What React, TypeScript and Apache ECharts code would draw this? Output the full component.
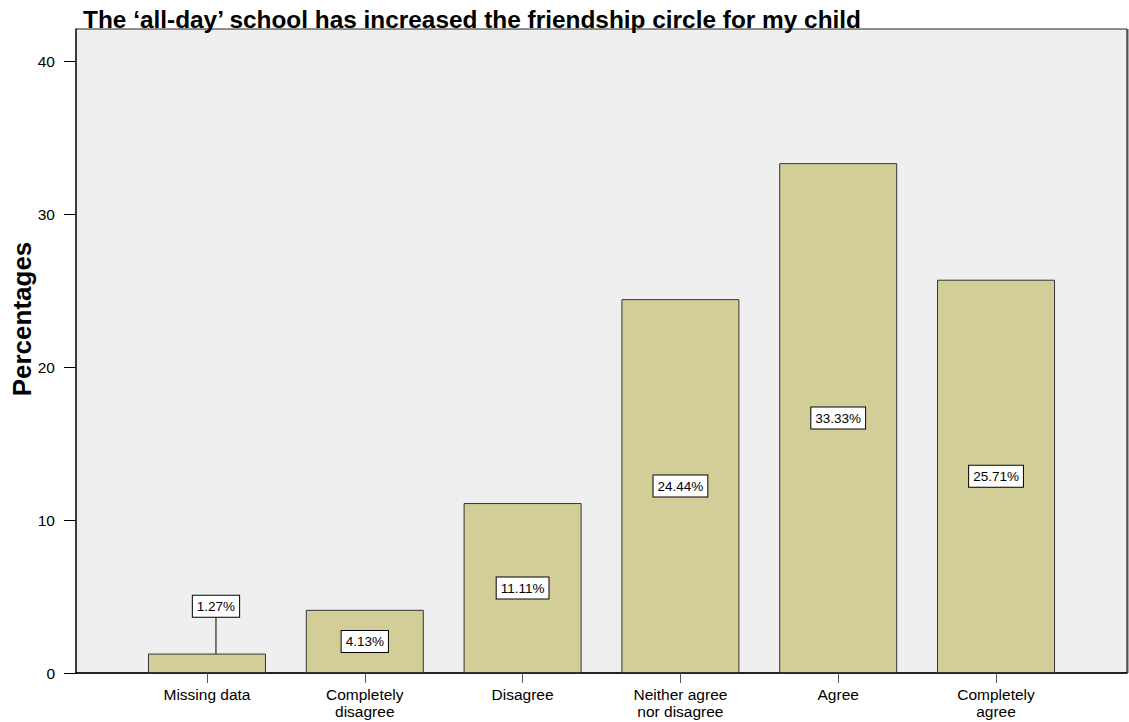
import React, { useEffect, useRef } from "react";
import * as echarts from "echarts";

const categories: string[] = [
  "Missing data",
  "Completely\ndisagree",
  "Disagree",
  "Neither agree\nnor disagree",
  "Agree",
  "Completely\nagree",
];
const percentages: number[] = [1.27, 4.13, 11.11, 24.44, 33.33, 25.71];
const yTicks: number[] = [0, 10, 20, 30, 40];

const TITLE = "The \u2018all-day\u2019 school has increased the friendship circle for my child";
const FONT = "'Liberation Sans', Arial, Helvetica, sans-serif";

export default function App() {
  const ref = useRef<HTMLDivElement>(null);
  useEffect(() => {
    if (!ref.current) return;
    const chart = echarts.init(ref.current, undefined, { renderer: "svg" });
    const idx = categories.map((_, i) => i);
    chart.setOption({
      animation: false,
      backgroundColor: "#ffffff",
      textStyle: { fontFamily: FONT },
      title: {
        text: TITLE,
        left: 78,
        top: 2,
        textStyle: { fontFamily: FONT, fontSize: 24.4, fontWeight: "bold", color: "#000" },
      },
      grid: {
        left: 76,
        right: 2,
        top: 29,
        bottom: 49,
        show: true,
        backgroundColor: "#efefef",
        borderColor: "#222",
        borderWidth: 1,
      },
      graphic: [
        {
          type: "text",
          x: 22,
          y: 319,
          rotation: Math.PI / 2,
          style: {
            text: "Percentages",
            fontFamily: FONT,
            fontSize: 26,
            fontWeight: "bold",
            fill: "#000",
            align: "center",
            verticalAlign: "middle",
          },
        },
        {
          type: "line",
          shape: { x1: 1127.5, y1: 29, x2: 1127.5, y2: 673 },
          style: { stroke: "#555", lineWidth: 2 },
        },
      ],
      xAxis: {
        type: "value",
        min: -0.83,
        max: 5.83,
        splitLine: { show: false },
        axisLine: { show: true, onZero: false, lineStyle: { color: "#000", width: 1.5 } },
        axisTick: {
          show: true,
          customValues: idx,
          length: 10,
          lineStyle: { color: "#555" },
        },
        axisLabel: {
          show: true,
          customValues: idx,
          margin: 13,
          fontSize: 15.5,
          lineHeight: 17,
          color: "#000",
          fontFamily: FONT,
          formatter: (v: number) => categories[Math.round(v)] ?? "",
        },
      },
      yAxis: {
        type: "value",
        min: 0,
        max: 42.1,
        interval: 10,
        splitLine: { show: false },
        axisLine: { show: true, onZero: false, lineStyle: { color: "#222", width: 1.5 } },
        axisTick: {
          show: true,
          customValues: yTicks,
          length: 12,
          lineStyle: { color: "#000" },
        },
        axisLabel: {
          customValues: yTicks,
          margin: 21,
          fontSize: 15.5,
          color: "#000",
          fontFamily: FONT,
        },
      },
      series: [
        {
          type: "bar",
          barWidth: 118,
          data: percentages.map((v, i) => [i, v]),
          itemStyle: { color: "#d3ce98", borderColor: "#333", borderWidth: 1 },
          label: {
            show: true,
            position: "inside",
            formatter: (p: any) => p.value[1].toFixed(2) + "%",
            fontFamily: FONT,
            fontSize: 13.5,
            color: "#000",
            backgroundColor: "#ffffff",
            borderColor: "#000",
            borderWidth: 1,
            padding: [4, 4, 3, 4],
          },
          labelLine: { show: true, lineStyle: { color: "#000", width: 1 } },
          labelLayout: (params: any) =>
            params.dataIndex === 0 ? { dx: 9, dy: -57 } : {},
        },
      ],
    });
    return () => chart.dispose();
  }, []);
  return <div ref={ref} style={{ width: 1129, height: 722, position: "absolute", left: 0, top: 0 }} />;
}
